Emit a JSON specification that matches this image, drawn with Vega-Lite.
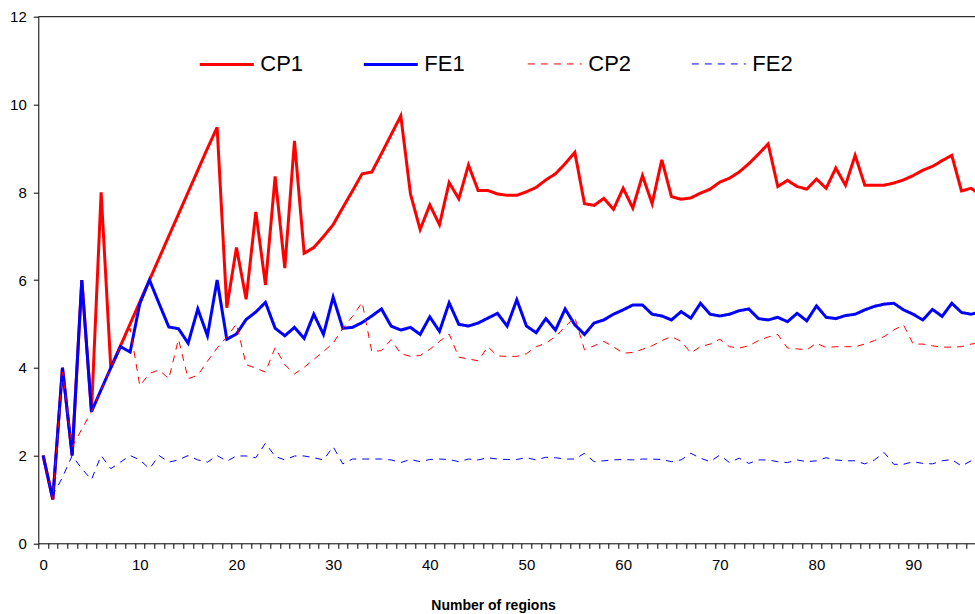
{
  "$schema": "https://vega.github.io/schema/vega-lite/v6.json",
  "autosize": {"type": "none"},
  "padding": {"left": 38.3, "top": 16.7, "right": 0, "bottom": 70.7},
  "width": 936.7,
  "height": 526.6,
  "background": "white",
  "config": {
    "view": {"stroke": null},
    "font": "Liberation Sans",
    "axis": {"labelFont": "Liberation Sans", "labelFontSize": 15, "labelColor": "black", "domainColor": "black", "tickColor": "black", "grid": false}
  },
  "layer": [
    {
      "data": {"values": [
        {"x":0,"CP1":2,"FE1":2,"CP2":2,"FE2":2},
        {"x":1,"CP1":1,"FE1":1,"CP2":1,"FE2":1.1},
        {"x":2,"CP1":4,"FE1":4,"CP2":3.9,"FE2":1.5},
        {"x":3,"CP1":2,"FE1":2,"CP2":2.2,"FE2":2.0},
        {"x":4,"CP1":6,"FE1":6,"CP2":2.6,"FE2":1.7},
        {"x":5,"CP1":3,"FE1":3,"CP2":3.0,"FE2":1.45},
        {"x":6,"CP1":8,"FE1":3.5,"CP2":3.5,"FE2":2.0},
        {"x":7,"CP1":4,"FE1":4,"CP2":4.0,"FE2":1.7},
        {"x":8,"CP1":4.5,"FE1":4.48,"CP2":4.48,"FE2":1.85},
        {"x":9,"CP1":5.0,"FE1":4.36,"CP2":4.9,"FE2":2.0},
        {"x":10,"CP1":5.5,"FE1":5.46,"CP2":3.59,"FE2":1.9},
        {"x":11,"CP1":6.0,"FE1":6.0,"CP2":3.87,"FE2":1.7},
        {"x":12,"CP1":6.5,"FE1":5.46,"CP2":3.95,"FE2":2.0},
        {"x":13,"CP1":7.0,"FE1":4.93,"CP2":3.75,"FE2":1.85},
        {"x":14,"CP1":7.5,"FE1":4.89,"CP2":4.65,"FE2":1.9},
        {"x":15,"CP1":8.0,"FE1":4.56,"CP2":3.75,"FE2":2.0},
        {"x":16,"CP1":8.5,"FE1":5.34,"CP2":3.83,"FE2":1.9},
        {"x":17,"CP1":9.0,"FE1":4.73,"CP2":4.15,"FE2":1.85},
        {"x":18,"CP1":9.48,"FE1":6.0,"CP2":4.45,"FE2":2.0},
        {"x":19,"CP1":5.37,"FE1":4.65,"CP2":4.7,"FE2":1.87},
        {"x":20,"CP1":6.74,"FE1":4.77,"CP2":5.0,"FE2":1.99},
        {"x":21,"CP1":5.56,"FE1":5.1,"CP2":4.07,"FE2":1.99},
        {"x":22,"CP1":7.55,"FE1":5.27,"CP2":3.99,"FE2":1.95},
        {"x":23,"CP1":5.89,"FE1":5.49,"CP2":3.9,"FE2":2.28},
        {"x":24,"CP1":8.36,"FE1":4.9,"CP2":4.46,"FE2":1.98},
        {"x":25,"CP1":6.27,"FE1":4.73,"CP2":4.07,"FE2":1.9},
        {"x":26,"CP1":9.17,"FE1":4.92,"CP2":3.86,"FE2":1.99},
        {"x":27,"CP1":6.61,"FE1":4.67,"CP2":4.01,"FE2":1.99},
        {"x":28,"CP1":6.74,"FE1":5.22,"CP2":4.19,"FE2":1.95},
        {"x":29,"CP1":6.99,"FE1":4.76,"CP2":4.37,"FE2":1.9},
        {"x":30,"CP1":7.26,"FE1":5.61,"CP2":4.56,"FE2":2.2},
        {"x":31,"CP1":7.65,"FE1":4.9,"CP2":4.9,"FE2":1.81},
        {"x":32,"CP1":8.03,"FE1":4.92,"CP2":5.17,"FE2":1.92},
        {"x":33,"CP1":8.42,"FE1":5.03,"CP2":5.49,"FE2":1.92},
        {"x":34,"CP1":8.46,"FE1":5.18,"CP2":4.37,"FE2":1.92},
        {"x":35,"CP1":8.88,"FE1":5.34,"CP2":4.39,"FE2":1.92},
        {"x":36,"CP1":9.31,"FE1":4.95,"CP2":4.64,"FE2":1.9},
        {"x":37,"CP1":9.74,"FE1":4.86,"CP2":4.32,"FE2":1.84},
        {"x":38,"CP1":7.96,"FE1":4.92,"CP2":4.26,"FE2":1.91},
        {"x":39,"CP1":7.15,"FE1":4.76,"CP2":4.28,"FE2":1.86},
        {"x":40,"CP1":7.71,"FE1":5.16,"CP2":4.42,"FE2":1.91},
        {"x":41,"CP1":7.26,"FE1":4.83,"CP2":4.6,"FE2":1.92},
        {"x":42,"CP1":8.22,"FE1":5.48,"CP2":4.77,"FE2":1.91},
        {"x":43,"CP1":7.85,"FE1":4.99,"CP2":4.24,"FE2":1.86},
        {"x":44,"CP1":8.62,"FE1":4.95,"CP2":4.2,"FE2":1.92},
        {"x":45,"CP1":8.04,"FE1":5.02,"CP2":4.16,"FE2":1.9},
        {"x":46,"CP1":8.04,"FE1":5.13,"CP2":4.48,"FE2":1.95},
        {"x":47,"CP1":7.96,"FE1":5.24,"CP2":4.27,"FE2":1.92},
        {"x":48,"CP1":7.93,"FE1":4.95,"CP2":4.26,"FE2":1.91},
        {"x":49,"CP1":7.93,"FE1":5.55,"CP2":4.26,"FE2":1.91},
        {"x":50,"CP1":8.01,"FE1":4.95,"CP2":4.32,"FE2":1.95},
        {"x":51,"CP1":8.11,"FE1":4.8,"CP2":4.48,"FE2":1.9},
        {"x":52,"CP1":8.28,"FE1":5.12,"CP2":4.56,"FE2":1.96},
        {"x":53,"CP1":8.42,"FE1":4.86,"CP2":4.71,"FE2":1.95},
        {"x":54,"CP1":8.65,"FE1":5.34,"CP2":4.94,"FE2":1.92},
        {"x":55,"CP1":8.91,"FE1":4.98,"CP2":5.15,"FE2":1.92},
        {"x":56,"CP1":7.74,"FE1":4.76,"CP2":4.41,"FE2":2.05},
        {"x":57,"CP1":7.7,"FE1":5.02,"CP2":4.5,"FE2":1.86},
        {"x":58,"CP1":7.86,"FE1":5.09,"CP2":4.6,"FE2":1.88},
        {"x":59,"CP1":7.61,"FE1":5.22,"CP2":4.48,"FE2":1.9},
        {"x":60,"CP1":8.09,"FE1":5.32,"CP2":4.33,"FE2":1.91},
        {"x":61,"CP1":7.64,"FE1":5.43,"CP2":4.35,"FE2":1.9},
        {"x":62,"CP1":8.38,"FE1":5.43,"CP2":4.42,"FE2":1.92},
        {"x":63,"CP1":7.74,"FE1":5.22,"CP2":4.5,"FE2":1.92},
        {"x":64,"CP1":8.74,"FE1":5.18,"CP2":4.62,"FE2":1.91},
        {"x":65,"CP1":7.9,"FE1":5.09,"CP2":4.71,"FE2":1.86},
        {"x":66,"CP1":7.84,"FE1":5.28,"CP2":4.6,"FE2":1.9},
        {"x":67,"CP1":7.87,"FE1":5.13,"CP2":4.34,"FE2":2.05},
        {"x":68,"CP1":7.98,"FE1":5.47,"CP2":4.48,"FE2":1.94},
        {"x":69,"CP1":8.07,"FE1":5.22,"CP2":4.54,"FE2":1.86},
        {"x":70,"CP1":8.23,"FE1":5.18,"CP2":4.65,"FE2":2.01},
        {"x":71,"CP1":8.32,"FE1":5.22,"CP2":4.48,"FE2":1.84},
        {"x":72,"CP1":8.46,"FE1":5.3,"CP2":4.45,"FE2":1.94},
        {"x":73,"CP1":8.65,"FE1":5.34,"CP2":4.5,"FE2":1.82},
        {"x":74,"CP1":8.87,"FE1":5.12,"CP2":4.62,"FE2":1.9},
        {"x":75,"CP1":9.1,"FE1":5.09,"CP2":4.7,"FE2":1.9},
        {"x":76,"CP1":8.13,"FE1":5.15,"CP2":4.76,"FE2":1.86},
        {"x":77,"CP1":8.27,"FE1":5.05,"CP2":4.45,"FE2":1.84},
        {"x":78,"CP1":8.13,"FE1":5.24,"CP2":4.43,"FE2":1.9},
        {"x":79,"CP1":8.07,"FE1":5.07,"CP2":4.41,"FE2":1.86},
        {"x":80,"CP1":8.3,"FE1":5.41,"CP2":4.56,"FE2":1.88},
        {"x":81,"CP1":8.09,"FE1":5.15,"CP2":4.46,"FE2":1.95},
        {"x":82,"CP1":8.55,"FE1":5.12,"CP2":4.48,"FE2":1.9},
        {"x":83,"CP1":8.16,"FE1":5.19,"CP2":4.48,"FE2":1.88},
        {"x":84,"CP1":8.84,"FE1":5.22,"CP2":4.48,"FE2":1.88},
        {"x":85,"CP1":8.16,"FE1":5.32,"CP2":4.54,"FE2":1.81},
        {"x":86,"CP1":8.16,"FE1":5.4,"CP2":4.62,"FE2":1.9},
        {"x":87,"CP1":8.16,"FE1":5.45,"CP2":4.71,"FE2":2.07},
        {"x":88,"CP1":8.21,"FE1":5.47,"CP2":4.86,"FE2":1.8},
        {"x":89,"CP1":8.28,"FE1":5.32,"CP2":4.98,"FE2":1.8},
        {"x":90,"CP1":8.38,"FE1":5.22,"CP2":4.54,"FE2":1.86},
        {"x":91,"CP1":8.5,"FE1":5.09,"CP2":4.54,"FE2":1.82},
        {"x":92,"CP1":8.59,"FE1":5.33,"CP2":4.5,"FE2":1.81},
        {"x":93,"CP1":8.72,"FE1":5.17,"CP2":4.47,"FE2":1.88},
        {"x":94,"CP1":8.84,"FE1":5.47,"CP2":4.47,"FE2":1.91},
        {"x":95,"CP1":8.03,"FE1":5.26,"CP2":4.48,"FE2":1.76},
        {"x":96,"CP1":8.09,"FE1":5.22,"CP2":4.54,"FE2":1.88},
        {"x":97,"CP1":7.94,"FE1":5.28,"CP2":4.57,"FE2":1.85}
      ]},
      "transform": [{"fold": ["CP1", "FE1", "CP2", "FE2"], "as": ["series", "value"]}],
      "mark": {"type": "line", "clip": true},
      "encoding": {
        "x": {
          "field": "x", "type": "quantitative",
          "scale": {"domain": [-0.5, 96.4], "nice": false, "zero": false},
          "axis": {
            "title": "Number of regions",
            "titleFont": "Liberation Sans", "titleFontSize": 14, "titleFontWeight": "bold", "titleColor": "black",
            "titleAnchor": "start", "titleAlign": "center", "titleX": 454.7, "titleY": 66, "titleBaseline": "alphabetic",
            "values": [0,1,2,3,4,5,6,7,8,9,10,11,12,13,14,15,16,17,18,19,20,21,22,23,24,25,26,27,28,29,30,31,32,33,34,35,36,37,38,39,40,41,42,43,44,45,46,47,48,49,50,51,52,53,54,55,56,57,58,59,60,61,62,63,64,65,66,67,68,69,70,71,72,73,74,75,76,77,78,79,80,81,82,83,84,85,86,87,88,89,90,91,92,93,94,95,96,97],
            "labelExpr": "datum.value % 10 === 0 ? datum.label : ''",
            "tickOffset": -4.83, "labelOffset": 4.83,
            "tickSize": 5, "labelPadding": 9, "labelFlush": false, "labelOverlap": false
          }
        },
        "y": {
          "field": "value", "type": "quantitative",
          "scale": {"domain": [0, 12], "nice": false},
          "axis": {"title": null, "values": [0,2,4,6,8,10,12], "tickSize": 5, "labelPadding": 7}
        },
        "color": {
          "field": "series", "type": "nominal",
          "scale": {"domain": ["CP1", "FE1", "CP2", "FE2"], "range": ["#ff0000", "#0000ff", "#ff0000", "#0000ff"]},
          "legend": {
            "orient": "none", "legendX": 160, "legendY": 19, "direction": "horizontal", "columns": 4,
            "title": null, "symbolType": "stroke", "symbolSize": 2916, "labelFont": "Liberation Sans",
            "labelFontSize": 22, "labelColor": "black", "labelOffset": 5, "columnPadding": 54, "gridAlign": "all", "padding": 0
          }
        },
        "strokeDash": {
          "field": "series", "type": "nominal",
          "scale": {"domain": ["CP1", "FE1", "CP2", "FE2"], "range": [[1, 0], [1, 0], [7, 6], [7, 6]]}
        },
        "strokeWidth": {
          "field": "series", "type": "nominal",
          "scale": {"type": "ordinal", "domain": ["CP1", "FE1", "CP2", "FE2"], "range": [3, 3, 1, 1]}
        }
      }
    },
    {
      "data": {"values": [{}]},
      "mark": {"type": "rule", "color": "black", "strokeWidth": 1},
      "encoding": {"y": {"datum": 12}}
    }
  ]
}
